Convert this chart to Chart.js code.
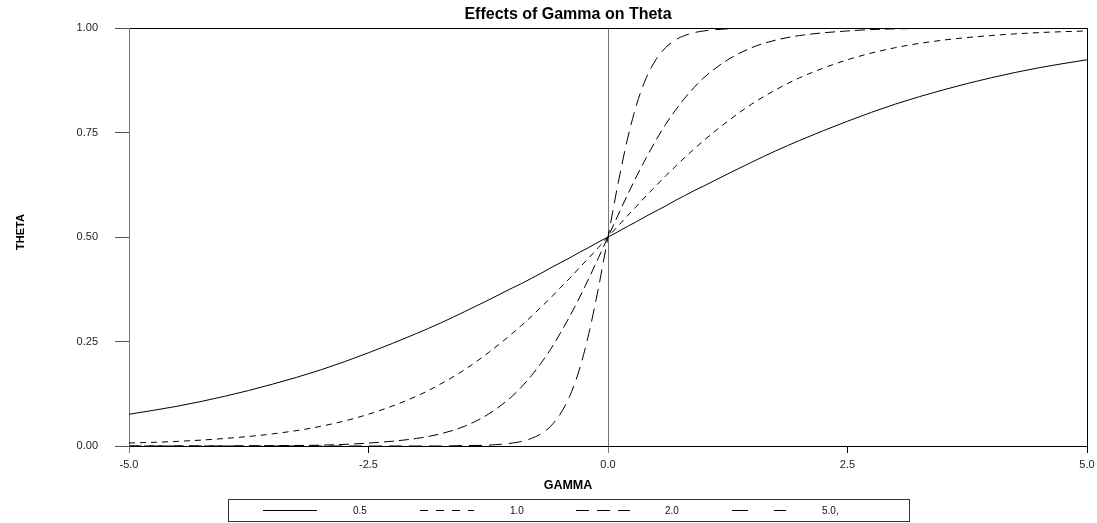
<!DOCTYPE html>
<html>
<head>
<meta charset="utf-8">
<style>
  html, body { margin: 0; padding: 0; background: #ffffff; }
  #wrap { width: 1097px; height: 523px; position: relative; }
</style>
<script src="https://cdn.jsdelivr.net/npm/chart.js@4.4.1/dist/chart.umd.min.js"></script>
</head>
<body>
<div id="wrap"><canvas id="c" width="1097" height="523"></canvas></div>
<script>
const chartTitle = "Effects of Gamma on Theta";
const xAxisTitle = "GAMMA";
const yAxisTitle = "THETA";
const seriesLabels = ["0.5", "1.0", "2.0", "5.0,"];

const gammaValues = [-5,-4.5,-4,-3.5,-3,-2.5,-2,-1.75,-1.5,-1.25,-1,-0.9,-0.8,-0.7,-0.6,-0.5,-0.4,-0.3,-0.2,-0.1,0,0.1,0.2,0.3,0.4,0.5,0.6,0.7,0.8,0.9,1,1.25,1.5,1.75,2,2.5,3,3.5,4,4.5,5];
const theta05 = [0.076,0.095,0.119,0.148,0.182,0.223,0.269,0.294,0.321,0.349,0.378,0.389,0.401,0.413,0.426,0.438,0.450,0.463,0.475,0.488,0.500,0.512,0.525,0.537,0.550,0.562,0.574,0.587,0.599,0.611,0.622,0.651,0.679,0.706,0.731,0.777,0.818,0.852,0.881,0.905,0.924];
const theta10 = [0.007,0.011,0.018,0.029,0.047,0.076,0.119,0.148,0.182,0.223,0.269,0.289,0.310,0.332,0.354,0.378,0.401,0.426,0.450,0.475,0.500,0.525,0.550,0.574,0.599,0.622,0.646,0.668,0.690,0.711,0.731,0.777,0.818,0.852,0.881,0.924,0.953,0.971,0.982,0.989,0.993];
const theta20 = [0.000,0.000,0.000,0.001,0.002,0.007,0.018,0.029,0.047,0.076,0.119,0.142,0.168,0.198,0.231,0.269,0.310,0.354,0.401,0.450,0.500,0.550,0.599,0.646,0.690,0.731,0.769,0.802,0.832,0.858,0.881,0.924,0.953,0.971,0.982,0.993,0.998,0.999,1.000,1.000,1.000];
const theta50 = [0,0,0,0,0,0,0,0,0.001,0.002,0.007,0.011,0.018,0.029,0.047,0.076,0.119,0.182,0.269,0.378,0.500,0.622,0.731,0.818,0.881,0.924,0.953,0.971,0.982,0.989,0.993,0.998,0.999,1,1,1,1,1,1,1,1];

const xTicks = [-5, -2.5, 0, 2.5, 5];
const yTicks = [0, 0.25, 0.5, 0.75, 1];

const FONT = "'Liberation Sans', Arial, Helvetica, sans-serif";

function pts(ys) { return gammaValues.map((g, i) => ({ x: g, y: ys[i] })); }

const seriesValues = [theta05, theta10, theta20, theta50];
const dashes = [[], [6, 5], [10, 5], [13, 7]];
const legendDashes = [[], [8, 8], [13, 8], [16, 26]];

const datasets = seriesValues.map((ys, i) => ({
  label: seriesLabels[i],
  data: pts(ys),
  borderColor: '#000000',
  borderWidth: 1,
  borderDash: dashes[i],
  pointRadius: 0,
  fill: false,
  cubicInterpolationMode: 'monotone',
  legendDash: legendDashes[i]
}));

const textPlugin = {
  id: 'texts',
  afterDraw(chart) {
    const ctx = chart.ctx;
    ctx.save();
    ctx.fillStyle = '#000';
    ctx.textAlign = 'center';
    ctx.textBaseline = 'alphabetic';
    ctx.font = 'bold 16px ' + FONT;
    ctx.fillText(chartTitle, 568, 19);
    ctx.font = 'bold 12.5px ' + FONT;
    ctx.fillText(xAxisTitle, 568, 489);
    ctx.save();
    ctx.translate(21, 232);
    ctx.rotate(-Math.PI / 2);
    ctx.font = 'bold 11px ' + FONT;
    ctx.textBaseline = 'middle';
    ctx.fillText(yAxisTitle, 0, 0);
    ctx.restore();

    // legend box
    ctx.strokeStyle = '#333';
    ctx.lineWidth = 1;
    ctx.strokeRect(228.5, 499.5, 681, 22);
    const sampleX = [263, 420, 576, 732];
    const labelX = [353, 510, 665, 822];
    const y = 510.5;
    chart.data.datasets.forEach((ds, i) => {
      ctx.beginPath();
      ctx.setLineDash(ds.legendDash);
      ctx.strokeStyle = '#000';
      ctx.moveTo(sampleX[i], y);
      ctx.lineTo(sampleX[i] + 54, y);
      ctx.stroke();
      ctx.setLineDash([]);
      ctx.font = '10px ' + FONT;
      ctx.textAlign = 'left';
      ctx.textBaseline = 'middle';
      ctx.fillStyle = '#111';
      ctx.fillText(ds.label, labelX[i], 511);
    });
    ctx.restore();
  }
};

new Chart(document.getElementById('c'), {
  type: 'line',
  data: { datasets },
  plugins: [textPlugin],
  options: {
    responsive: false,
    animation: false,
    devicePixelRatio: 1,
    layout: { padding: { left: 0, right: 10, top: 28, bottom: 0 } },
    plugins: { legend: { display: false }, title: { display: false }, tooltip: { enabled: false } },
    elements: { line: { tension: 0 } },
    scales: {
      x: {
        type: 'linear',
        min: -5, max: 5,
        afterBuildTicks(scale) { scale.ticks = xTicks.map(v => ({ value: v })); },
        afterFit(scale) { scale.height = 77; scale.paddingLeft = 0; scale.paddingRight = 0; },
        ticks: {
          padding: 5,
          color: '#222',
          font: { family: FONT, size: 11 },
          maxRotation: 0,
          autoSkip: false,
          callback: (v) => Number(v).toFixed(1)
        },
        grid: {
          drawTicks: true,
          tickLength: 7,
          lineWidth: 1,
          color: (c) => (c.tick && c.tick.value === 0) || (c.tick && c.tick.value === -5) ? '#777' : (c.tick && c.tick.value === 5 ? '#000' : 'rgba(0,0,0,0)'),
          tickColor: (c) => (c.tick && (c.tick.value === 0 || c.tick.value === -5)) ? '#777' : '#000'
        },
        border: { display: true, color: '#000', width: 1 }
      },
      y: {
        type: 'linear',
        min: 0, max: 1,
        afterBuildTicks(scale) { scale.ticks = yTicks.map(v => ({ value: v })); },
        afterFit(scale) { scale.width = 129; scale.paddingTop = 0; scale.paddingBottom = 0; },
        ticks: {
          padding: 17,
          color: '#222',
          font: { family: FONT, size: 11 },
          callback: (v) => Number(v).toFixed(2)
        },
        grid: {
          drawTicks: true,
          tickLength: 14,
          lineWidth: 1,
          color: (c) => (c.tick && (c.tick.value === 0 || c.tick.value === 1)) ? '#000' : 'rgba(0,0,0,0)',
          tickColor: '#555'
        },
        border: { display: true, color: '#777', width: 1 }
      }
    }
  }
});
</script>
</body>
</html>
